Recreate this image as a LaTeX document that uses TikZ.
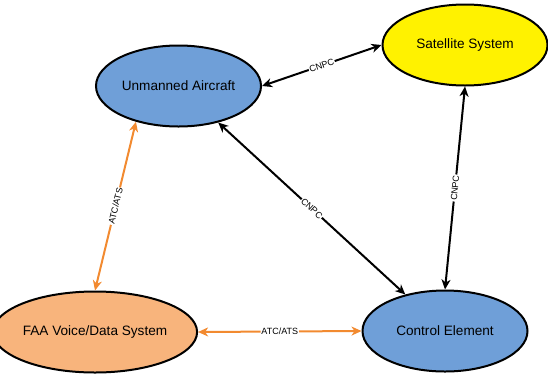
\documentclass[tikz,border=0pt]{standalone}
\usepackage{fontspec}
\setmainfont{Liberation Sans}
\usetikzlibrary{shapes.geometric}
\usetikzlibrary{arrows.meta}

\definecolor{uablue}{HTML}{6F9FD8}
\definecolor{faaorange}{HTML}{F8B47C}
\definecolor{atcorange}{HTML}{F28A30}

\begin{document}
\begin{tikzpicture}[x=1pt, y=-1pt,
  sys/.style={ellipse, draw, line width=2pt, minimum width=165pt, minimum height=81pt,
              inner sep=0pt, font=\fontsize{13.6}{16}\selectfont},
  link/.style={line width=2pt, {Stealth[length=10pt,width=9pt,inset=3pt]}-{Stealth[length=10pt,width=9pt,inset=3pt]}},
  atc/.style={link, draw=atcorange},
  lbl/.style={midway, sloped, fill=white, inner sep=0.8pt, font=\fontsize{9}{10}\selectfont}]

  \useasboundingbox (0,0) rectangle (548,373);

  % systems
  \node[sys, fill=uablue] (ua) at (178.5,86) {Unmanned Aircraft};
  \node[sys, fill=yellow] (sat) at (465,45) {Satellite System};
  \node[sys, fill=faaorange] (faa) at (95,332) {FAA Voice/Data System};
  \node[sys, fill=uablue] (ctrl) at (445,331) {Control Element};

  % cnpc links
  \draw[link] (ua.east) -- node[lbl] {CNPC} (sat.west);
  \draw[link] (ua) -- node[lbl] {CNPC} (ctrl);
  \draw[link] (sat.south) -- node[lbl] {CNPC} (ctrl.north);

  % atc/ats links
  \draw[atc] (faa.north) -- node[lbl] {ATC/ATS} (ua.220);
  \draw[atc] (faa.east) -- node[lbl] {ATC/ATS} (ctrl.west);

\end{tikzpicture}
\end{document}
